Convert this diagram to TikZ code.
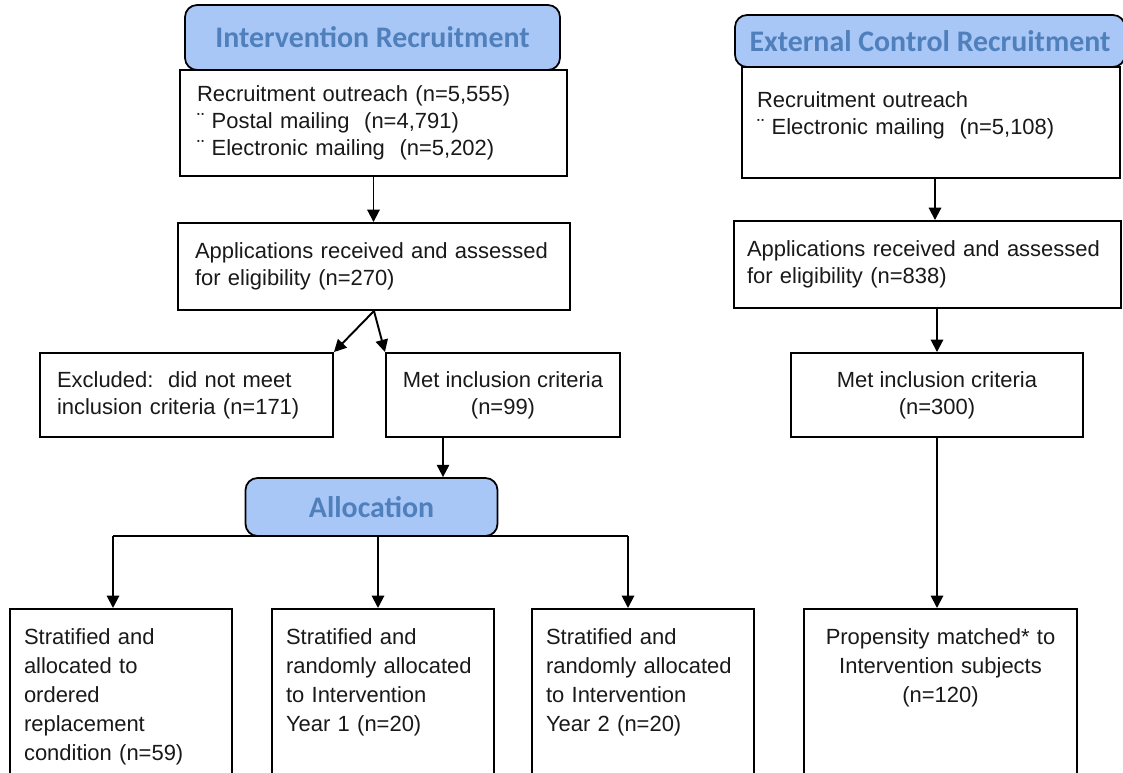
\documentclass[tikz,border=0pt]{standalone}
\usepackage{fontspec}
\setmainfont{Liberation Sans}
\newfontfamily\headfont{Carlito}
\usepackage{xcolor}
\usepackage{tikz}
\usetikzlibrary{arrows.meta}
\usetikzlibrary{calc}
\usetikzlibrary{positioning}
\definecolor{headfill}{RGB}{168,199,247}
\definecolor{headtext}{RGB}{80,128,188}
\hyphenpenalty=10000
\exhyphenpenalty=10000
\tikzstyle{block} = [rectangle, draw, line width=1.1pt, fill=white, text=black!90, font=\fontsize{12.5}{15.3}\selectfont, align=left, inner xsep=0.34cm, inner ysep=0pt]
\tikzstyle{tall}  = [block, anchor=north, font=\fontsize{12.5}{16.4}\selectfont, inner ysep=0.4cm, text depth=3.6cm]
\tikzstyle{head}  = [rectangle, draw, line width=1pt, fill=headfill, rounded corners=0.24cm, text=headtext, font=\headfont\bfseries\fontsize{17}{20}\selectfont]
\tikzstyle{line}  = [draw, line width=1.1pt, -{Triangle[length=7pt,width=7pt]}]

\begin{document}
\begin{tikzpicture}[x=0.02cm, y=-0.02cm]
        \useasboundingbox (0,0) rectangle (1123,773);
        % intervention arm
        \node [block, minimum width=7.74cm, minimum height=2.12cm, text width=7.06cm] (iout) at (373.5,123) {Recruitment outreach (n=5,555)\\¨ Postal mailing\ \ (n=4,791)\\¨ Electronic mailing\ \ (n=5,202)};
        \node [head, minimum width=7.5cm, minimum height=1.3cm] (ihead) at (372.5,37.5) {Intervention Recruitment};
        \node [block, minimum width=7.84cm, minimum height=1.74cm, text width=7.16cm] (iapp) at (374,266.5) {Applications received and assessed\\for eligibility (n=270)};
        \node [block, minimum width=5.86cm, minimum height=1.68cm, text width=5.18cm] (excl) at (186.5,395) {Excluded:\ \ did not meet\\inclusion criteria (n=171)};
        \node [block, minimum width=3.56cm, minimum height=1.68cm, align=center] (imet) at (503,395) {Met inclusion criteria\\(n=99)};
        \node [head, minimum width=5.04cm, minimum height=1.16cm] (alloc) at (371.5,507) {Allocation};
        \node [tall, minimum width=4.44cm, text width=3.88cm, inner xsep=0.28cm] (b1) at (121,608) {Stratified and\\allocated to\\ordered\\replacement\\condition (n=59)};
        \node [tall, minimum width=4.44cm, text width=3.88cm, inner xsep=0.28cm] (b2) at (383,608) {Stratified and\\randomly~allocated\\to Intervention\\Year 1 (n=20)};
        \node [tall, minimum width=4.44cm, text width=3.88cm, inner xsep=0.28cm] (b3) at (643,608) {Stratified and\\randomly~allocated\\to Intervention\\Year 2 (n=20)};
        % external control arm
        \node [block, minimum width=7.56cm, text width=6.96cm, inner xsep=0.3cm, text height=0.82cm, text depth=1.4cm] (eout) at (931,122.5) {Recruitment outreach\\¨ Electronic mailing\ \ (n=5,108)};
        \node [head, minimum width=7.8cm, minimum height=1.04cm] (ehead) at (930,41) {External Control Recruitment};
        \node [block, minimum width=7.74cm, minimum height=1.74cm, text width=7.22cm, inner xsep=0.26cm] (eapp) at (927.5,264.5) {Applications received and assessed\\for eligibility (n=838)};
        \node [block, minimum width=5.84cm, minimum height=1.68cm, align=center] (emet) at (937,395) {Met inclusion criteria\\(n=300)};
        \node [tall, minimum width=5.46cm, text width=4.78cm, align=center] (eprop) at (940.5,608) {Propensity matched* to\\Intervention subjects\\(n=120)};
        % connectors
        \path [line] (iout.south) -- (iout.south |- iapp.north);
        \path [line] (iapp.south) -- (excl.north east);
        \path [line] (iapp.south) -- (imet.north west);
        \path [line] ([xshift=-1.2cm]imet.south) -- ([xshift=-1.2cm]imet.south |- alloc.north);
        \coordinate (s1) at (113,536);
        \coordinate (s2) at (378,536);
        \coordinate (s3) at (628,536);
        \draw [line width=1.1pt] (s1) -- (s3);
        \path [line] (s1) -- (s1 |- b1.north);
        \path [line] (s2) -- (s2 |- b2.north);
        \path [line] (s3) -- (s3 |- b3.north);
        \path [line] ([xshift=0.08cm]eout.south) -- ([xshift=0.08cm]eout.south |- eapp.north);
        \path [line] (emet.north |- eapp.south) -- (emet.north);
        \path [line] (emet.south) -- (emet.south |- eprop.north);
\end{tikzpicture}
\end{document}
